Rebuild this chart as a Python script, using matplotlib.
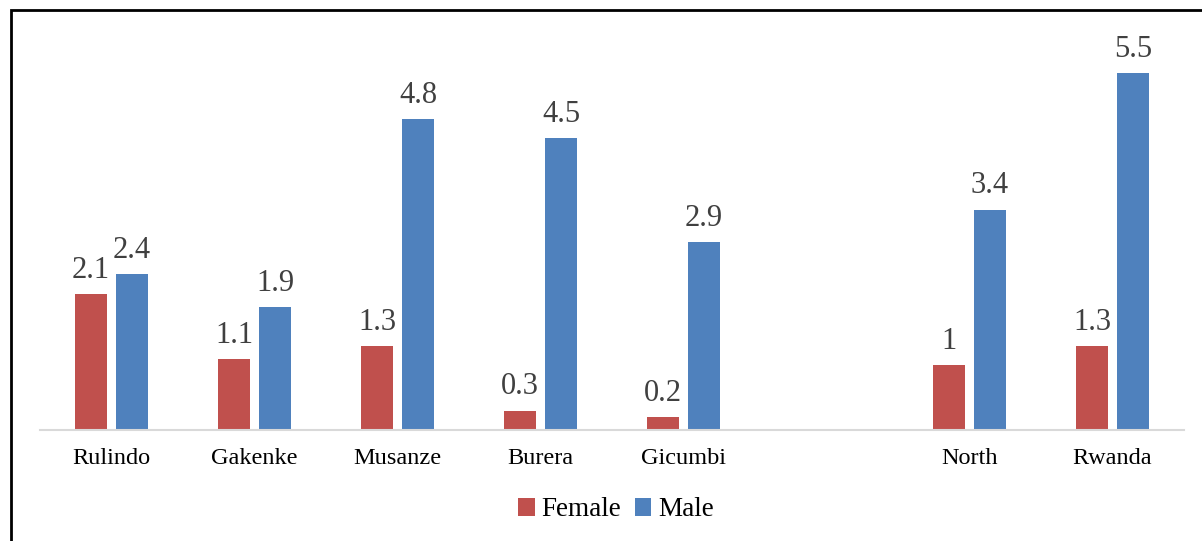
import matplotlib.pyplot as plt
from matplotlib.patches import Rectangle
import numpy as np

plt.rcParams['font.family'] = ['Liberation Serif', 'DejaVu Serif']

# data
districts = ['Rulindo', 'Gakenke', 'Musanze', 'Burera', 'Gicumbi', '', 'North', 'Rwanda']
female = [2.1, 1.1, 1.3, 0.3, 0.2, None, 1.0, 1.3]
male = [2.4, 1.9, 4.8, 4.5, 2.9, None, 3.4, 5.5]
female_labels = ['2.1', '1.1', '1.3', '0.3', '0.2', '', '1', '1.3']
male_labels = ['2.4', '1.9', '4.8', '4.5', '2.9', '', '3.4', '5.5']

fig = plt.figure(figsize=(12.02, 5.41), dpi=100)
ax = fig.add_axes([40 / 1202, 1 - 430 / 541, 1144 / 1202, 389 / 541])

x = np.arange(len(districts))
keep = [i for i in range(len(districts)) if female[i] is not None]
xk = x[keep]
fv = [female[i] for i in keep]
mv = [male[i] for i in keep]

w = 0.224
off = 0.143
b1 = ax.bar(xk - off, fv, w, color='#C0504D', label='Female')
b2 = ax.bar(xk + off, mv, w, color='#4F81BD', label='Male')

for rect, i in zip(b1, keep):
    ax.text(rect.get_x() + rect.get_width() / 2, rect.get_height() + 0.14, female_labels[i],
            ha='center', va='bottom', fontsize=22, color='#404040')
for rect, i in zip(b2, keep):
    ax.text(rect.get_x() + rect.get_width() / 2, rect.get_height() + 0.14, male_labels[i],
            ha='center', va='bottom', fontsize=22, color='#404040')

ax.set_xlim(-0.5, len(districts) - 0.5)
ax.set_ylim(0, 6)
ax.set_xticks(x)
ax.set_xticklabels(districts, fontsize=17.5)
ax.tick_params(axis='x', length=0, pad=13)
ax.set_yticks([])
for s in ['top', 'right', 'left']:
    ax.spines[s].set_visible(False)
ax.spines['bottom'].set_color('#D9D9D9')
ax.spines['bottom'].set_linewidth(1.5)

fig.legend(handles=[b1, b2], loc='center', bbox_to_anchor=(616 / 1202, 1 - 510 / 541),
           ncol=2, frameon=False, fontsize=19.5, handlelength=0.6, handleheight=0.6,
           handletextpad=0.25, columnspacing=0.5)

# outer frame
fig.patches.append(Rectangle((11 / 1202, -0.05), 1.2, 1 - 10 / 541 + 0.05,
                             transform=fig.transFigure, fill=False,
                             edgecolor='black', linewidth=2))

plt.savefig('out.png', dpi=100)
